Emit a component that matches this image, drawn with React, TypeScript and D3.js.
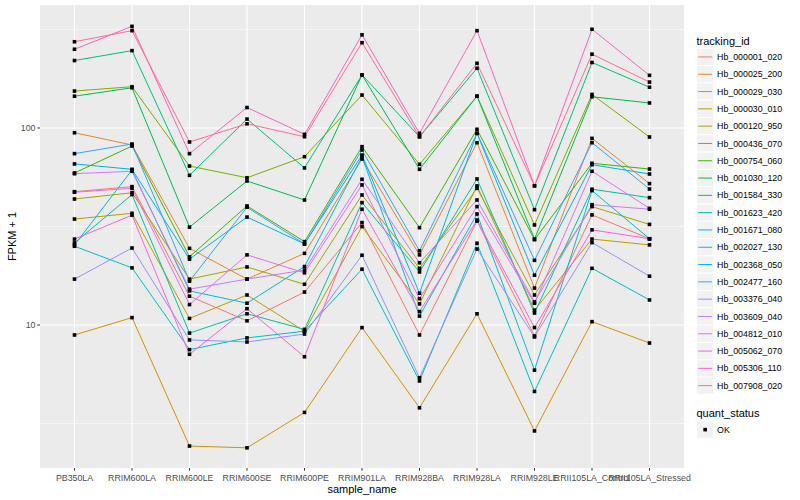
import React from "react";
import * as d3 from "d3";

// sample names on the x axis
const categories = [
  "PB350LA", "RRIM600LA", "RRIM600LE", "RRIM600SE", "RRIM600PE", "RRIM901LA",
  "RRIM928BA", "RRIM928LA", "RRIM928LE", "RRII105LA_Control", "RRII105LA_Stressed",
];

const trackingIds = [
  "Hb_000001_020", "Hb_000025_200", "Hb_000029_030", "Hb_000030_010", "Hb_000120_950",
  "Hb_000436_070", "Hb_000754_060", "Hb_001030_120", "Hb_001584_330", "Hb_001623_420",
  "Hb_001671_080", "Hb_002027_130", "Hb_002368_050", "Hb_002477_160", "Hb_003376_040",
  "Hb_003609_040", "Hb_004812_010", "Hb_005062_070", "Hb_005306_110", "Hb_007908_020",
];

// ggplot hue palette, 20 levels
const palette = [
  "#F8766D", "#EA8331", "#D89000", "#C09B00", "#A3A500", "#7CAE00", "#39B600", "#00BB4E",
  "#00BF7D", "#00C1A3", "#00BFC4", "#00BAE0", "#00B0F6", "#35A2FF", "#9590FF", "#C77CFF",
  "#E76BF3", "#FA62DB", "#FF62BC", "#FF6C91",
];

// FPKM + 1 per sample, one array per gene
const hb000001_020 = [47.5, 50.4, 14.0, 10.5, 14.7, 33.1, 8.9, 33.7, 8.8, 36.2, 27.4];
const hb000025_200 = [94.6, 82.0, 24.5, 17.1, 23.1, 69.6, 22.7, 84.2, 15.4, 88.6, 52.2];
const hb000029_030 = [8.9, 10.9, 2.43, 2.38, 3.6, 9.7, 3.8, 11.4, 2.9, 10.4, 8.1];
const hb000030_010 = [34.5, 36.9, 10.8, 14.2, 9.3, 31.6, 12.8, 50.8, 11.9, 27.3, 25.5];
const hb000120_950 = [43.6, 46.9, 17.1, 19.7, 16.1, 45.7, 19.4, 49.4, 14.2, 39.9, 32.4];
const hb000436_070 = [154, 162, 64.1, 55.9, 71.5, 147, 65.4, 145, 32.2, 148, 90.0];
const hb000754_060 = [59.1, 81.0, 22.2, 40.2, 26.5, 80.4, 31.2, 98.5, 27.1, 66.2, 61.9];
const hb001030_120 = [145, 160, 31.4, 53.8, 43.1, 186, 61.7, 145, 27.3, 144, 134];
const hb001584_330 = [220, 247, 57.5, 111, 62.7, 186, 90.3, 201, 38.5, 215, 161];
const hb001623_420 = [26.1, 45.9, 9.1, 11.4, 9.5, 41.8, 18.6, 55.1, 11.5, 48.9, 44.3];
const hb001671_080 = [25.1, 19.5, 7.5, 8.6, 9.3, 19.2, 5.2, 26.0, 4.6, 19.4, 13.4];
const hb002027_130 = [25.5, 61.2, 14.9, 12.9, 19.8, 71.5, 11.1, 36.6, 5.9, 48.1, 27.4];
const hb002368_050 = [65.7, 61.7, 21.6, 35.3, 25.8, 72.9, 14.5, 94.0, 17.9, 65.1, 58.4];
const hb002477_160 = [74.1, 82.9, 16.7, 39.6, 25.8, 77.3, 23.8, 94.0, 21.3, 84.2, 49.0];
const hb003376_040 = [17.1, 24.6, 8.4, 8.2, 9.0, 22.6, 5.4, 24.3, 8.7, 26.2, 17.7];
const hb003609_040 = [58.6, 60.3, 15.2, 17.1, 19.0, 54.9, 20.7, 43.1, 13.1, 40.8, 38.7];
const hb004812_010 = [47.2, 49.4, 12.7, 22.7, 18.4, 51.4, 13.6, 39.9, 12.9, 60.3, 39.1];
const hb005062_070 = [27.3, 36.1, 7.1, 12.1, 6.9, 38.7, 11.7, 34.1, 9.7, 30.4, 27.4];
const hb005306_110 = [251, 328, 74.1, 127, 92.9, 297, 94.0, 312, 50.9, 317, 185];
const hb007908_020 = [274, 312, 84.9, 105, 90.3, 271, 90.3, 213, 50.9, 237, 171];

const seriesValues = [
  hb000001_020, hb000025_200, hb000029_030, hb000030_010, hb000120_950,
  hb000436_070, hb000754_060, hb001030_120, hb001584_330, hb001623_420,
  hb001671_080, hb002027_130, hb002368_050, hb002477_160, hb003376_040,
  hb003609_040, hb004812_010, hb005062_070, hb005306_110, hb007908_020,
];

const yMajor = [10, 100];
const yMinor = [Math.sqrt(10), Math.sqrt(1000), Math.sqrt(100000)];

export default function App() {
  const W = 800, H = 500;
  const left = 40, right = 684, top = 5, bottom = 468;
  const font = "'Liberation Sans', Arial, sans-serif";

  const x = d3.scalePoint<string>().domain(categories).range([left, right]).padding(0.6);
  const y = d3.scaleLog().domain([1.88, 421]).range([bottom, top]);

  const line = d3.line<number>()
    .x((_, i) => x(categories[i]) as number)
    .y((d) => y(d));

  const keyH = 17.3;
  const legX = 696.5;
  const legY0 = 48.3;

  return (
    <div style={{ position: "absolute", left: 0, top: 0 }}>
      <svg width={W} height={H} style={{ display: "block", background: "#fff" }} fontFamily={font}>
        <rect x={left} y={top} width={right - left} height={bottom - top} fill="#EBEBEB" />
        {yMinor.map((v) => (
          <line key={"mn" + v} x1={left} x2={right} y1={y(v)} y2={y(v)} stroke="#fff" strokeWidth={0.55} />
        ))}
        {yMajor.map((v) => (
          <line key={"mj" + v} x1={left} x2={right} y1={y(v)} y2={y(v)} stroke="#fff" strokeWidth={1.1} />
        ))}
        {categories.map((c) => (
          <line key={"gx" + c} x1={x(c)} x2={x(c)} y1={top} y2={bottom} stroke="#fff" strokeWidth={1.1} />
        ))}

        {seriesValues.map((vals, s) => (
          <path key={"l" + s} d={line(vals) || ""} fill="none" stroke={palette[s]} strokeWidth={1} />
        ))}
        {seriesValues.map((vals, s) =>
          vals.map((v, i) => (
            <rect key={"p" + s + "_" + i} x={(x(categories[i]) as number) - 1.8} y={y(v) - 1.8}
              width={3.6} height={3.6} fill="#000" />
          ))
        )}

        {/* y axis */}
        {yMajor.map((v) => (
          <g key={"yt" + v}>
            <line x1={left - 2.7} x2={left} y1={y(v)} y2={y(v)} stroke="#333" strokeWidth={1} />
            <text x={left - 4.5} y={y(v)} dy="0.35em" textAnchor="end" fontSize={8.8} fill="#4D4D4D">{v}</text>
          </g>
        ))}
        <text transform={`translate(16,${(top + bottom) / 2}) rotate(-90)`} textAnchor="middle"
          fontSize={11} fill="#000">FPKM + 1</text>

        {/* x axis */}
        {categories.map((c) => (
          <g key={"xt" + c}>
            <line x1={x(c)} x2={x(c)} y1={bottom} y2={bottom + 2.7} stroke="#333" strokeWidth={1} />
            <text x={x(c)} y={bottom + 12.5} textAnchor="middle" fontSize={8.8} fill="#4D4D4D">{c}</text>
          </g>
        ))}
        <text x={(left + right) / 2} y={493} textAnchor="middle" fontSize={11} fill="#000">sample_name</text>

        {/* legend: tracking_id */}
        <text x={legX} y={44.5} fontSize={11} fill="#000">tracking_id</text>
        {trackingIds.map((id, i) => {
          const ky = legY0 + i * keyH;
          return (
            <g key={"lg" + id}>
              <rect x={legX} y={ky} width={keyH} height={keyH} fill="#F2F2F2" stroke="#fff" strokeWidth={1} />
              <line x1={legX + 1.7} x2={legX + keyH - 1.7} y1={ky + keyH / 2} y2={ky + keyH / 2}
                stroke={palette[i]} strokeWidth={1} />
              <text x={legX + keyH + 3.3} y={ky + keyH / 2} dy="0.35em" fontSize={8.8} fill="#000">{id}</text>
            </g>
          );
        })}

        {/* legend: quant_status */}
        <text x={legX} y={416.5} fontSize={11} fill="#000">quant_status</text>
        <rect x={legX} y={421} width={keyH} height={keyH} fill="#F2F2F2" stroke="#fff" strokeWidth={1} />
        <rect x={legX + keyH / 2 - 1.8} y={421 + keyH / 2 - 1.8} width={3.6} height={3.6} fill="#000" />
        <text x={legX + keyH + 3.3} y={421 + keyH / 2} dy="0.35em" fontSize={8.8} fill="#000">OK</text>
      </svg>
    </div>
  );
}
